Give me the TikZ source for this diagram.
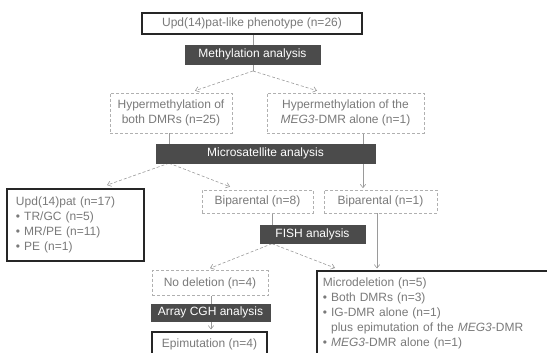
\documentclass[tikz,border=0pt]{standalone}
\usepackage{fontspec}
\setmainfont{Liberation Sans}
\usetikzlibrary{arrows.meta,backgrounds}
\definecolor{txtgray}{HTML}{7A7A7A}
\definecolor{linegray}{HTML}{9A9A9A}
\definecolor{darkfill}{HTML}{4B4B4B}
\definecolor{boxgray}{HTML}{B0B0B0}
\begin{document}
\begin{tikzpicture}[x=1pt,y=-1pt,
  every node/.style={font=\fontsize{12}{15}\selectfont, inner sep=0pt},
  lbox/.style={draw=boxgray, densely dashed, line width=0.6pt, text=txtgray, fill=white},
  dbox/.style={fill=darkfill, draw=darkfill, text=white},
  bbox/.style={draw=black!85, line width=1.8pt, text=txtgray, fill=white},
  conn/.style={draw=linegray, line width=0.6pt},
  arr/.style={conn, -{Straight Barb[length=3.5pt,width=5.5pt]}},
  darr/.style={arr, dash pattern=on 3pt off 2pt}]
\useasboundingbox (0,0) rectangle (547,353);
\clip (0,0) rectangle (547,353);

\node[bbox, line width=1.4pt, minimum width=220pt, minimum height=21pt] (top) at (252,23.5) {Upd(14)pat-like phenotype (n=26)};
\node[dbox, minimum width=135pt, minimum height=19pt] (meth) at (252.5,54.5) {Methylation analysis};
\coordinate (mj) at (253,71);
\node[lbox, minimum width=122pt, minimum height=40pt, align=center] (hboth) at (171,113) {Hypermethylation of\\both DMRs (n=25)};
\node[lbox, minimum width=157pt, minimum height=40pt, align=center] (hmeg) at (345.5,113) {Hypermethylation of the\\\textit{MEG3}-DMR alone (n=1)};
\node[dbox, minimum width=219pt, minimum height=19pt] (micro) at (265.5,153.5) {Microsatellite analysis};

\node[bbox, minimum width=137pt, minimum height=72pt, text width=119pt, inner xsep=9pt, align=left] (upd) at (75.5,225) {Upd(14)pat (n=17)\\\textbullet\ TR/GC (n=5)\\\textbullet\ MR/PE (n=11)\\\textbullet\ PE (n=1)};
\node[lbox, minimum width=111pt, minimum height=23pt] (bip8) at (257.5,201.5) {Biparental (n=8)};
\node[lbox, minimum width=113pt, minimum height=23pt] (bip1) at (380.5,201.5) {Biparental (n=1)};
\node[dbox, minimum width=105pt, minimum height=18pt] (fish) at (312.5,234.5) {FISH analysis};

\node[lbox, minimum width=116pt, minimum height=25pt] (nodel) at (210,283) {No deletion (n=4)};
\node[dbox, minimum width=119pt, minimum height=17pt] (array) at (210.5,312.5) {Array CGH analysis};
\node[bbox, anchor=north, minimum width=115pt, text height=9pt, text depth=3pt, inner ysep=7pt] (epi) at (209.5,331) {Epimutation (n=4)};
\node[bbox, anchor=north west, text width=290pt, inner xsep=6pt, inner ysep=7pt, align=left] (mdel) at (316,270) {Microdeletion (n=5)\\\textbullet\ Both DMRs (n=3)\\\textbullet\ IG-DMR alone (n=1)\\\phantom{\textbullet\ }plus epimutation of the \textit{MEG3}-DMR\\\textbullet\ \textit{MEG3}-DMR alone (n=1)\\[4pt]};

\begin{pgfonlayer}{background}
\draw[conn] (top.south -| mj) -- (meth.north -| mj);
\draw[conn] (meth.south -| mj) -- (mj);
\draw[darr] (mj) -- ([yshift=2pt]hboth.north -| 195,0);
\draw[darr] (mj) -- ([yshift=2pt]hmeg.north -| 317,0);
\draw[conn] (hboth.south -| 169,0) -- (micro.north -| 169,0);
\draw[darr] (micro.south -| 169,0) -- ([yshift=3pt]upd.north -| 107,0);
\draw[darr] (micro.south -| 169,0) -- ([yshift=3pt]bip8.north -| 230,0);
\draw[arr] (hmeg.south -| 363,0) -- ([yshift=1.5pt]bip1.north -| 363,0);
\draw[conn] (bip8.south -| 272,0) -- (fish.north -| 272,0);
\draw[darr] (fish.south -| 272,0) -- ([yshift=2pt]nodel.north -| 210,0);
\draw[darr] (fish.south -| 272,0) -- ([yshift=2pt]mdel.north -| 335,0);
\draw[arr] (bip1.south -| 377,0) -- ([yshift=1.5pt]mdel.north -| 377,0);
\draw[conn] (nodel.south -| 211,0) -- (array.north -| 211,0);
\draw[arr] (array.south -| 211,0) -- ([yshift=1.5pt]epi.north -| 211,0);
\end{pgfonlayer}
\end{tikzpicture}
\end{document}
